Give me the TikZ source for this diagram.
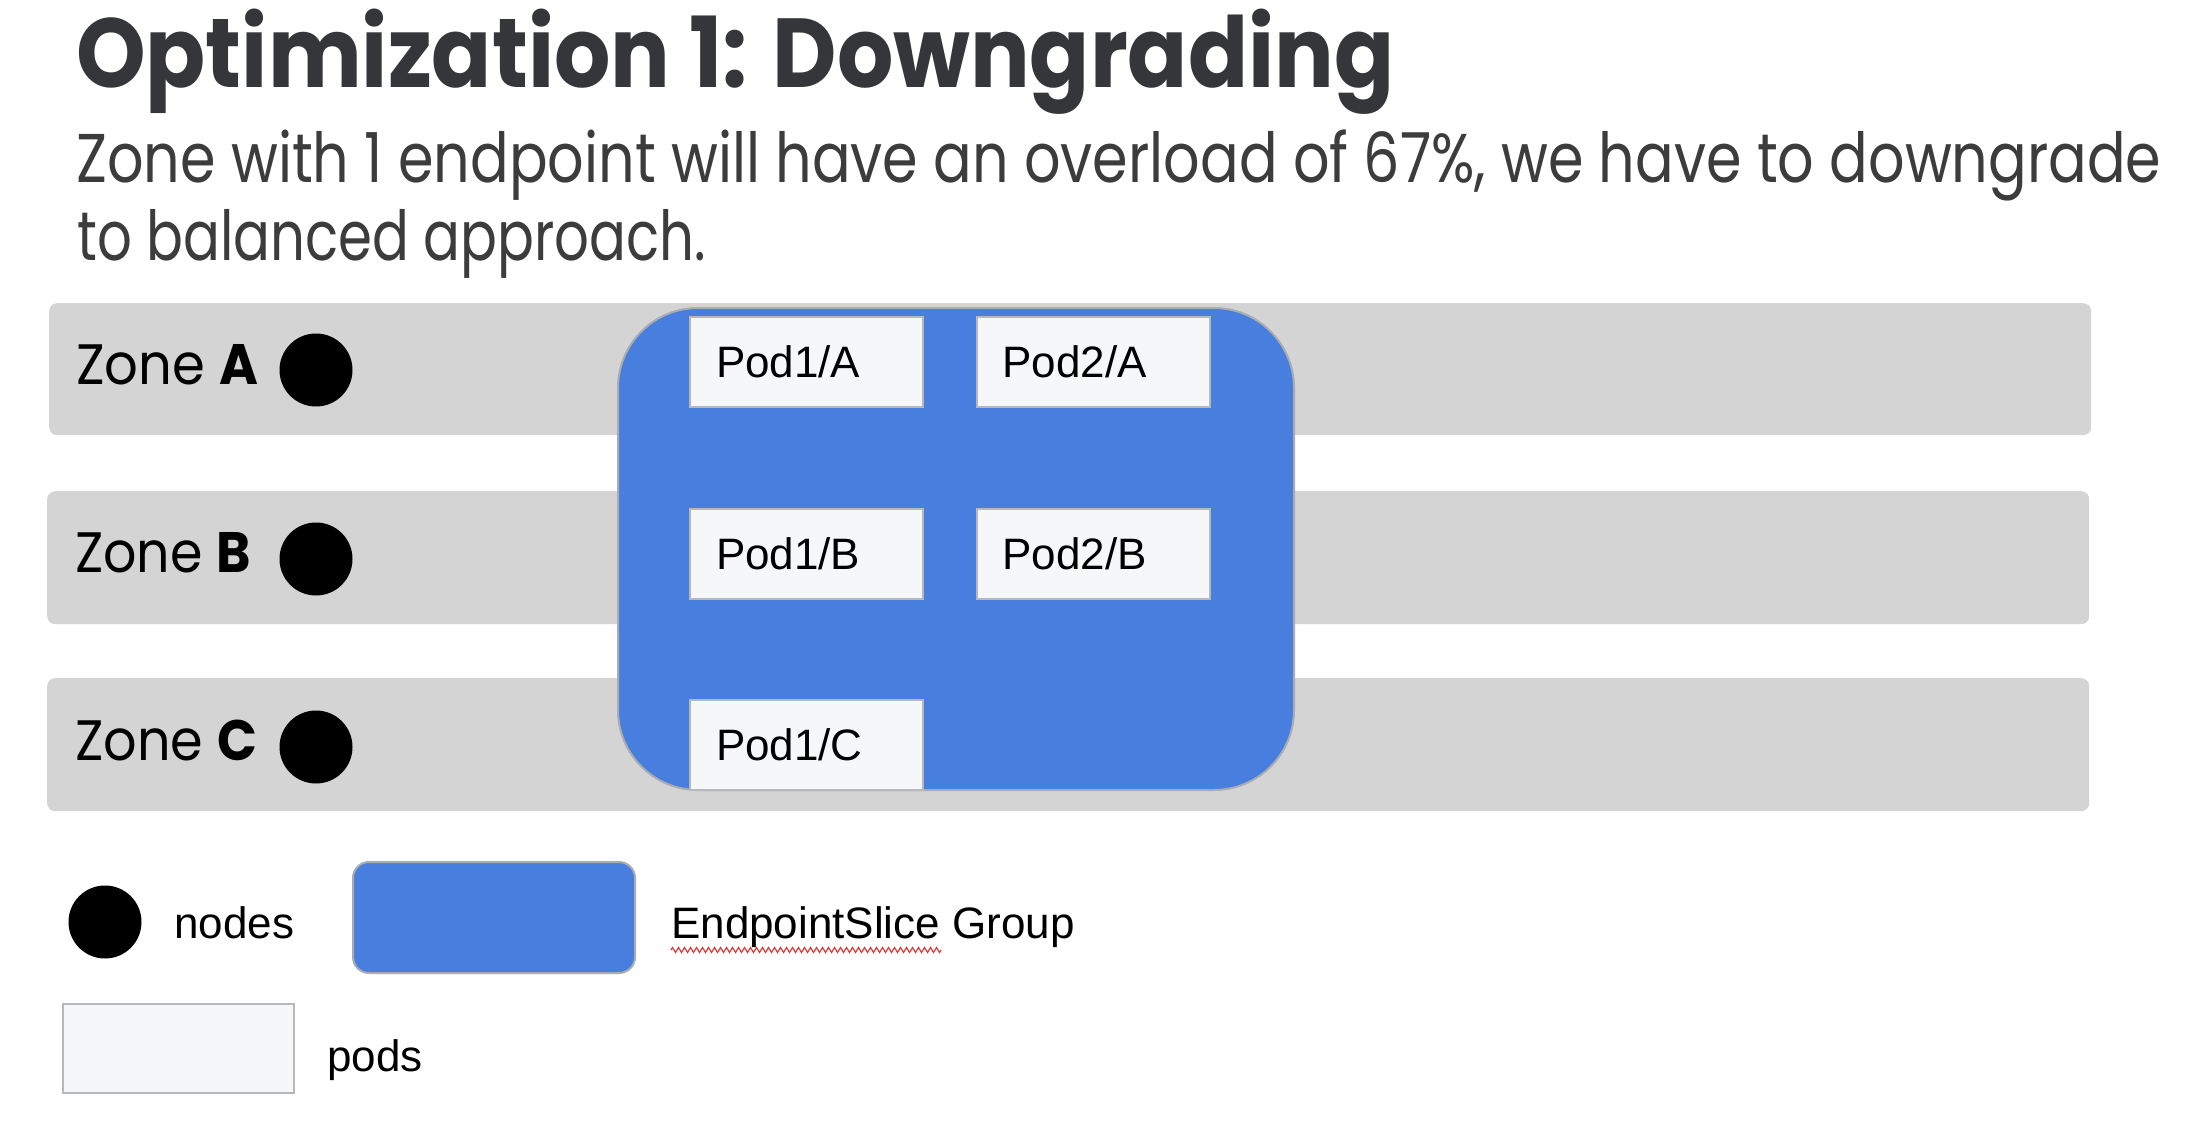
\documentclass[tikz,border=0pt]{standalone}
\usepackage{fontspec}
\usepackage{graphicx}
\setmainfont{Liberation Sans}
\newfontfamily\gsans{Poppins}
\usetikzlibrary{decorations.pathmorphing}

\definecolor{bandgray}{HTML}{D4D4D4}
\definecolor{sliceblue}{HTML}{487EDE}
\definecolor{edgegray}{HTML}{A9ACB2}
\definecolor{podfill}{HTML}{F6F7F9}
\definecolor{podedge}{HTML}{B6B8BC}
\definecolor{titlegray}{HTML}{35363A}
\definecolor{subgray}{HTML}{3C3C3C}
\definecolor{squiggle}{HTML}{E53935}

% set a line of text to an exact width, keeping its height
\newcommand{\fitto}[2]{\resizebox{#1}{\height}{#2}}

\begin{document}
\begin{tikzpicture}[x=1pt,y=-1pt,
  zoneband/.style={rectangle, fill=bandgray, rounded corners=8pt, draw=none, inner sep=0pt, anchor=north west},
  nodedot/.style={circle, fill=black, minimum size=73pt, inner sep=0pt},
  slicebox/.style={rectangle, fill=sliceblue, draw=edgegray, line width=2pt, inner sep=0pt, anchor=north west},
  podbox/.style={rectangle, fill=podfill, draw=podedge, line width=2pt,
    minimum width=233pt, minimum height=90pt, text width=181pt,
    inner xsep=26pt, inner ysep=0pt, align=left, font=\fontsize{44}{48}\selectfont},
  legtext/.style={anchor=base west, inner sep=0pt, font=\fontsize{44}{48}\selectfont},
  zonelabel/.style={anchor=base west, inner sep=0pt, font=\gsans\fontsize{57}{60}\selectfont},
]
\useasboundingbox (0,0) rectangle (2200,1134);
\fill[white] (0,0) rectangle (2200,1134);

% heading
\node[anchor=base west, inner sep=0pt, text=titlegray,
  font=\gsans\bfseries\fontsize{98}{100}\selectfont] (title) at (76,88)
  {\fitto{1318pt}{Optimization 1: Downgrading}};
\node[anchor=base west, inner sep=0pt, text=subgray,
  font=\gsans\fontsize{69}{72}\selectfont] (sub1) at (76,183)
  {\fitto{2085pt}{Zone with 1 endpoint will have an overload of 67\%, we have to downgrade}};
\node[anchor=base west, inner sep=0pt, text=subgray,
  font=\gsans\fontsize{69}{72}\selectfont] (sub2) at (77,260)
  {\fitto{629pt}{to balanced approach.}};

% zones
\node[zoneband, minimum width=2042pt, minimum height=132pt] (bandA) at (49,303) {};
\node[zoneband, minimum width=2042pt, minimum height=133pt] (bandB) at (47,491) {};
\node[zoneband, minimum width=2042pt, minimum height=133pt] (bandC) at (47,678) {};

\node[zonelabel] (labA) at (76,384) {\fitto{182pt}{Zone \textbf{A}}};
\node[zonelabel] (labB) at (75,572) {\fitto{176pt}{Zone \textbf{B}}};
\node[zonelabel] (labC) at (75,760) {\fitto{182pt}{Zone \textbf{C}}};

\node[nodedot] (dotA) at (316,370) {};
\node[nodedot] (dotB) at (316,559) {};
\node[nodedot] (dotC) at (316,747) {};

% endpoint slice group
\node[slicebox, rounded corners=80pt, minimum width=676pt, minimum height=482pt] (group) at (617,307) {};

% pods
\node[podbox] (p1a) at (806.5,362) {Pod1/A};
\node[podbox] (p2a) at (1093,362) {Pod2/A};
\node[podbox] (p1b) at (806.5,553.5) {Pod1/B};
\node[podbox] (p2b) at (1093,553.5) {Pod2/B};
\node[podbox] (p1c) at (806.5,744.5) {Pod1/C};

% legend
\node[nodedot] (legdot) at (105,922) {};
\node[legtext] (legnodes) at (174,938) {nodes};
\node[slicebox, rounded corners=16pt, minimum width=282pt, minimum height=111pt] (leggroup) at (352,861) {};
\node[legtext] (leggrouptext) at (671,938) {EndpointSlice Group};
\draw[squiggle, line width=1.2pt, decorate,
  decoration={zigzag, segment length=6pt, amplitude=2.5pt}]
  (671,950) -- (941,950);
\node[podbox, anchor=north west, minimum width=231pt, minimum height=89pt, text width=179pt] (legpod) at (62,1003) {};
\node[legtext] (legpods) at (327,1071) {pods};
\end{tikzpicture}
\end{document}
